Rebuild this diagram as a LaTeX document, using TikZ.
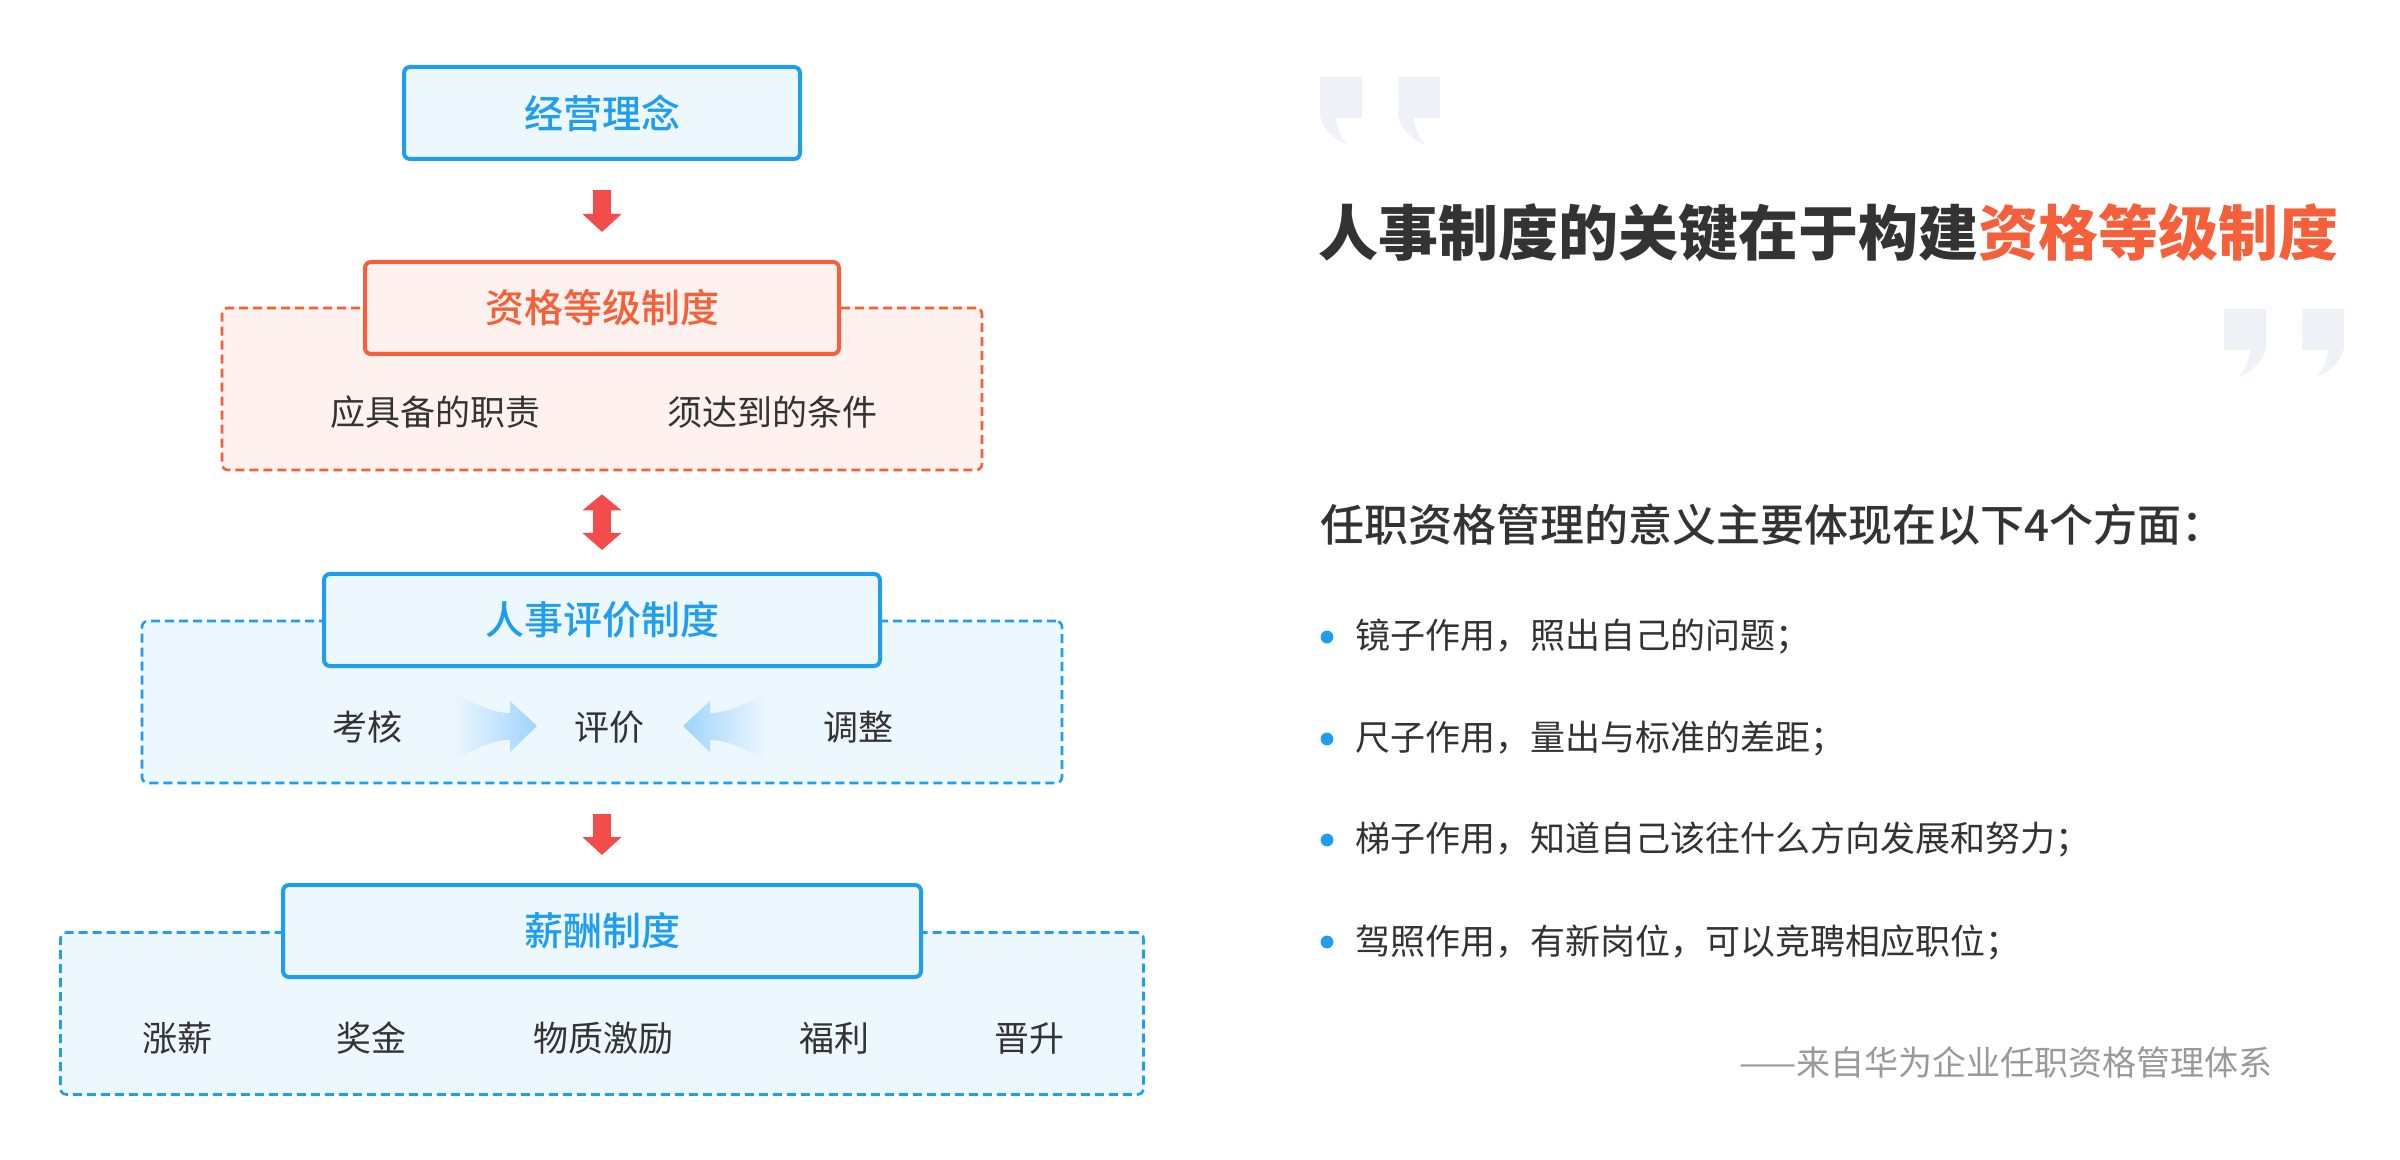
\documentclass[tikz,border=0pt]{standalone}
\usepackage{fontspec}
\setmainfont{Noto Sans CJK SC}
\newfontfamily\hrmedium{Noto Sans CJK SC Medium}
\usetikzlibrary{arrows.meta}
\definecolor{hrblue}{HTML}{1E9DF1}
\definecolor{hrbluebg}{HTML}{EDF7FE}
\definecolor{hrorange}{HTML}{F5603A}
\definecolor{hrorangebg}{HTML}{FFF1ED}
\definecolor{hrred}{HTML}{F44B4B}
\definecolor{hrtext}{HTML}{333333}
\definecolor{hrgray}{HTML}{999999}
\definecolor{hrquote}{HTML}{EEF2F6}
\definecolor{hrshaft}{HTML}{9ED4FB}

\begin{document}
\begin{tikzpicture}[x=0.5pt, y=-0.5pt,
  every node/.style = {inner sep=0pt, text=hrtext},
  title box/.style = {draw=hrblue, fill=hrbluebg, line width=2pt, rounded corners=3pt,
    minimum height=46pt, text=hrblue, font=\fontsize{19.5}{20}\hrmedium},
  frame/.style = {draw=hrblue, fill=hrbluebg, line width=1.3pt, dash pattern=on 4.5pt off 2.5pt,
    rounded corners=3pt, minimum height=81pt},
  item/.style = {font=\fontsize{17.5}{20}\selectfont},
  redarrow/.style = {draw=hrred, line width=9pt, -{Triangle[width=19pt,length=9pt]}}]
  \useasboundingbox (0,0) rectangle (2400,1160);

  % left: frames first, title boxes on top
  \node (qualframe) [frame, draw=hrorange, fill=hrorangebg, minimum width=380pt] at (602,389) {};
  \node (evalframe) [frame, minimum width=460pt] at (602,702) {};
  \node (payframe) [frame, minimum width=541.5pt] at (602,1013.5) {};

  \node (econ) [title box, minimum width=198pt] at (602,113) {经营理念};
  \node (qual) [title box, draw=hrorange, fill=hrorangebg, text=hrorange, minimum width=237pt] at (602,308) {资格等级制度};
  \node (eval) [title box, minimum width=278pt] at (602,620) {人事评价制度};
  \node (pay) [title box, minimum width=319pt] at (602,931) {薪酬制度};

  \node (duty) [item] at (435,412) {应具备的职责};
  \node (cond) [item] at (772,412) {须达到的条件};
  \node (check) [item] at (367,727) {考核};
  \node (judge) [item] at (609,727) {评价};
  \node (adjust) [item] at (858,727) {调整};
  \foreach \name/\x/\txt in {raise/177/涨薪, bonus/371/奖金, material/603/物质激励, welfare/834/福利, promo/1029/晋升}
    \node (\name) [item] at (\x,1038) {\txt};

  \draw[redarrow, shorten <=14.5pt, shorten >=14pt] (econ) -- (qual);
  \draw[redarrow, {Triangle[width=19pt,length=8pt]}-{Triangle[width=19pt,length=8.5pt]},
    shorten <=11.5pt, shorten >=11pt] (qualframe) -- (eval);
  \draw[redarrow, shorten <=15pt, shorten >=14pt] (evalframe) -- (pay);

  % soft arrows towards the middle
  \shade[left color=hrbluebg, right color=hrshaft] (453,692) .. controls (478,706) and (494,713) .. (510,713)
    -- (510,701) -- (537,726) -- (510,752) -- (510,740) .. controls (494,740) and (478,747) .. (453,761) -- cycle;
  \shade[left color=hrshaft, right color=hrbluebg] (767,692) .. controls (742,706) and (726,713) .. (710,713)
    -- (710,701) -- (683,726) -- (710,752) -- (710,740) .. controls (726,740) and (742,747) .. (767,761) -- cycle;

  % right: quote marks
  \foreach \x in {1320,1398}
    \fill[hrquote, shift={(\x,77)}] (0,0) -- (42,0) -- (42,41) -- (16,41) .. controls (17,52) and (21,61) .. (27,68)
      .. controls (10,60) and (0,48) .. (0,36) -- cycle;
  \foreach \x in {2224,2302}
    \fill[hrquote, shift={(\x,309)}] (0,0) -- (42,0) -- (42,36) .. controls (42,48) and (32,60) .. (15,68)
      .. controls (21,61) and (25,52) .. (26,41) -- (0,41) -- cycle;

  \node (headline) [anchor=west, font=\fontsize{30}{32}\selectfont\bfseries] at (1318,233)
    {人事制度的关键在于构建{\color{hrorange}资格等级制度}};
  \node (subhead) [anchor=west, font=\fontsize{22}{24}\hrmedium] at (1320,525)
    {任职资格管理的意义主要体现在以下4个方面：};
  \foreach \i/\y/\txt in {1/637/镜子作用，照出自己的问题；, 2/739/尺子作用，量出与标准的差距；,
      3/840/梯子作用，知道自己该往什么方向发展和努力；, 4/942/驾照作用，有新岗位，可以竞聘相应职位；} {
    \fill[hrblue] (1327,\y) circle (3.2pt);
    \node (point\i) [item, anchor=west] at (1355,\y) {\txt};
  }
  \node (source) [anchor=east, text=hrgray, font=\fontsize{17}{18}\selectfont] at (2273,1062)
    {——来自华为企业任职资格管理体系};
\end{tikzpicture}
\end{document}
